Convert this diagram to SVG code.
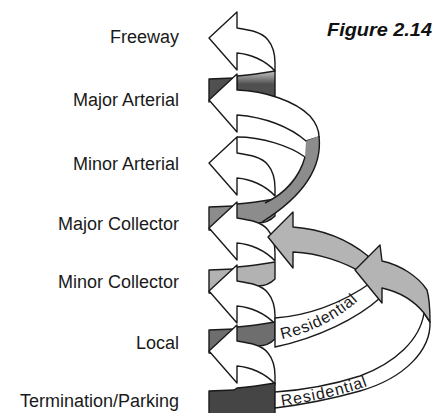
<svg xmlns="http://www.w3.org/2000/svg" width="442" height="413" viewBox="0 0 442 413">
<defs>
<linearGradient id="fade" gradientUnits="userSpaceOnUse" x1="0" y1="66" x2="0" y2="84">
<stop offset="0" stop-color="#f0f0f0"/>
<stop offset="1" stop-color="#505050"/>
</linearGradient>
</defs>
<style>
.lbl{font-family:"Liberation Sans",Arial,sans-serif;font-size:18px;fill:#1a1a1a;text-anchor:end}
.res{font-family:"Liberation Sans",Arial,sans-serif;font-size:16px;fill:#1a1a1a}
.w{fill:#fff;stroke:#1a1a1a;stroke-width:1.4;stroke-linejoin:round}
.s{stroke:#1a1a1a;stroke-width:1.4;stroke-linejoin:round}
.ln{fill:none;stroke:#1a1a1a;stroke-width:1.4}
.c1{fill:#505050}
.c2{fill:#8c8c8c}
.c3{fill:#b2b2b2}
.c4{fill:#6e6e6e}
.c5{fill:#454545}
.ar{fill:#b4b4b4;stroke:#1a1a1a;stroke-width:1.4;stroke-linejoin:round}
</style>
<rect width="442" height="413" fill="#fff"/>
<g id="level-freeway">
<text class="lbl" x="179" y="43">Freeway</text>
<path class="w" d="M209,38 L237,12 L237,28 C250,30 262,32 268,40 C273,46 275,54 275,63 L275,71 C265,60 250,54 237,53 L237,70 Z"/>
</g>
<g id="level-major-arterial">
<text class="lbl" x="179" y="106">Major Arterial</text>
<path class="s c1" d="M209,79 L234,78 L237,79 L209,102 Z"/>
<path class="s" fill="url(#fade)" d="M237,76 C250,75 263,73 275,71 L275,100 L237,100 Z"/>
<path class="w" d="M209,100 L237,74 L237,90 C265,91 295,101 310,116 C316,123 319,130 319,137 L306,141 C290,127 265,117 237,115 L237,132 Z"/>
<path class="ln" d="M237,137 C262,137 290,146 305,157"/>
</g>
<g id="level-minor-arterial">
<text class="lbl" x="179" y="170">Minor Arterial</text>
<path class="w" d="M209,163 L237,137 L237,153 C250,155 262,157 268,165 C273,171 275,179 275,188 L275,196 C265,185 250,179 237,178 L237,195 Z"/>
</g>
<g id="level-major-collector">
<text class="lbl" x="179" y="230">Major Collector</text>
<path class="s c2" d="M209,207 L234,206 L237,204 C250,203 263,201 275,199 L275,216 C270,221 265,223 258,223 L237,233 L209,230 Z"/>
<path class="c2" d="M306,141 L319,136 C322,162 310,192 262,222 L262,204 C280,196 297,180 305,157 Z"/>
<path class="ln" d="M319,136 C322,162 310,192 262,222"/>
<path class="ln" d="M305,157 C300,175 288,192 265,203"/>
<path class="w" d="M209,228 L237,202 L237,218 C250,220 262,222 268,230 C273,236 275,244 275,253 L275,261 C265,250 250,244 237,243 L237,260 Z"/>
</g>
<g id="level-minor-collector">
<text class="lbl" x="179" y="288">Minor Collector</text>
<path class="s c3" d="M209,270 L234,269 L237,267 C250,266 263,264 275,262 L275,279 C270,284 265,286 258,286 L237,296 L209,293 Z"/>
<path class="w" d="M209,291 L237,265 L237,281 C250,283 262,285 268,293 C273,299 275,307 275,316 L275,324 C265,313 250,307 237,306 L237,323 Z"/>
</g>
<g id="level-local">
<text class="lbl" x="179" y="349">Local</text>
<path class="s c4" d="M209,330 L234,329 L237,327 C250,326 263,324 275,322 L275,339 C270,344 265,346 258,346 L237,356 L209,353 Z"/>
<path class="w" d="M209,351 L237,325 L237,341 C250,343 262,345 268,353 C273,359 275,367 275,376 L275,384 C265,373 250,367 237,366 L237,383 Z"/>
</g>
<g id="level-termination">
<text class="lbl" x="179" y="407">Termination/Parking</text>
<path class="s c5" d="M209,391 L234,390 L237,388 C250,387 263,385 275,383 L275,415 L209,415 Z"/>
</g>
<g id="connectors">
<path id="res-upper" class="w" d="M275,318 C305,316 340,305 372,282 L380,298 C358,318 318,338 275,347 Z"/>
<path id="res-lower" class="w" d="M424,313 L430,322 C431,350 405,378 360,391 C335,398 300,405 275,408 L275,392 C305,390 335,384 360,376 C395,363 420,340 424,313 Z"/>
<path id="arrow-1" class="ar" d="M268,237 L293,212 L293,227 C320,229 346,238 368,256 L364,274 C345,262 318,253 293,252 L293,268 Z"/>
<path id="arrow-2" class="ar" d="M355,270 L380,245 L382,261 C400,265 418,276 427,290 C429,297 430,308 430,322 L424,313 C415,302 400,292 382,288 L382,303 Z"/>
<path id="tp-upper" d="M282,339 C306,334 336,322 362,297" fill="none"/>
<path id="tp-lower" d="M282,406 C310,402 345,395 372,384" fill="none"/>
<text class="res"><textPath href="#tp-upper" textLength="86" lengthAdjust="spacing">Residential</textPath></text>
<text class="res"><textPath href="#tp-lower" textLength="88" lengthAdjust="spacing">Residential</textPath></text>
</g>
<text x="327" y="36" textLength="105" lengthAdjust="spacingAndGlyphs" style="font-family:'Liberation Sans',Arial,sans-serif;font-size:18px;font-weight:bold;font-style:italic;fill:#111">Figure 2.14</text>
</svg>
